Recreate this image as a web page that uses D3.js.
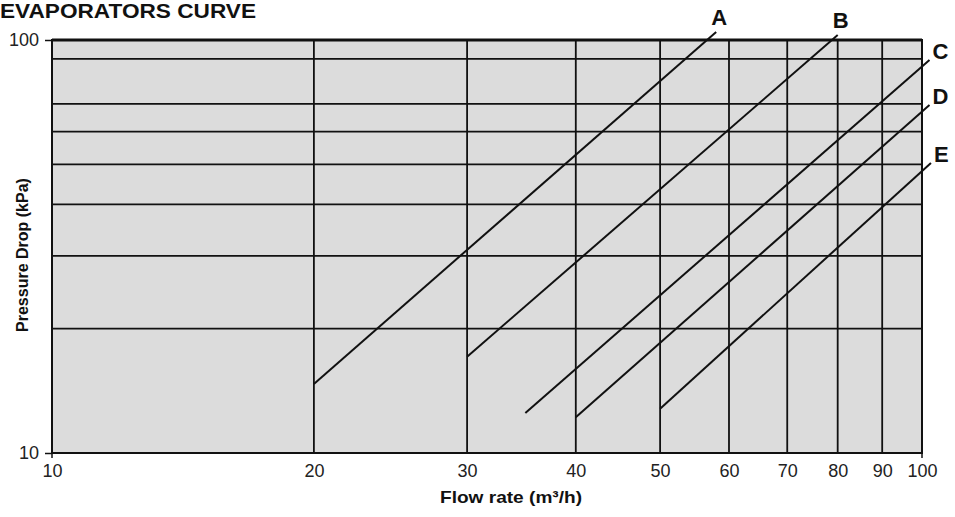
<!DOCTYPE html>
<html>
<head>
<meta charset="utf-8">
<script src="https://cdn.jsdelivr.net/npm/d3@7"></script>
<style>
  html, body { margin: 0; padding: 0; background: #ffffff; }
  svg { display: block; font-family: "Liberation Sans", Arial, sans-serif; }
</style>
</head>
<body>
<svg id="chart" width="955" height="517"></svg>
<script>
// ---- data ----
const title = "EVAPORATORS CURVE";
const xLabel = "Flow rate (m³/h)";
const yLabel = "Pressure Drop (kPa)";
const xTickValues = [10, 20, 30, 40, 50, 60, 70, 80, 90, 100];
const xGridValues = [20, 30, 40, 50, 60, 70, 80, 90];
const yGridValues = [20, 30, 40, 50, 60, 70, 90];
const yTickValues = [10, 100];
const curveNames = ["A", "B", "C", "D", "E"];
const flowStart = [20, 30, 35, 40, 50];
const dropStart = [14.7, 17.1, 12.5, 12.2, 12.8];
const flowEnd = [58, 80, 102, 102, 102.4];
const dropEnd = [104.6, 102.8, 89.4, 69.6, 50.4];

// ---- layout ----
const svg = d3.select("#chart");
const mLeft = 52, mRight = 922, mTop = 40, mBottom = 453;
const x = d3.scaleLog().domain([10, 100]).range([mLeft, mRight]);
const y = d3.scaleLog().domain([10, 100]).range([mBottom, mTop]);

// title
svg.append("text").attr("x", 0).attr("y", 18)
  .attr("font-size", 21).attr("font-weight", "bold").attr("fill", "#111")
  .attr("textLength", 256).attr("lengthAdjust", "spacingAndGlyphs")
  .text(title);

// plot background
svg.append("rect").attr("x", mLeft).attr("y", mTop)
  .attr("width", mRight - mLeft).attr("height", mBottom - mTop)
  .attr("fill", "#dcdcdc");

// grid
svg.append("g").selectAll("line").data(xGridValues).join("line")
  .attr("x1", d => x(d)).attr("x2", d => x(d))
  .attr("y1", mTop).attr("y2", mBottom)
  .attr("stroke", "#111").attr("stroke-width", 1.8);
svg.append("g").selectAll("line").data(yGridValues).join("line")
  .attr("x1", mLeft).attr("x2", mRight)
  .attr("y1", d => y(d)).attr("y2", d => y(d))
  .attr("stroke", "#111").attr("stroke-width", 1.8);

// frame
svg.append("rect").attr("x", mLeft).attr("y", mTop)
  .attr("width", mRight - mLeft).attr("height", mBottom - mTop)
  .attr("fill", "none").attr("stroke", "#111").attr("stroke-width", 2);
svg.append("line").attr("x1", mLeft).attr("x2", mRight).attr("y1", mTop).attr("y2", mTop)
  .attr("stroke", "#111").attr("stroke-width", 3);

// y axis
const yAxis = d3.axisLeft(y).tickValues(yTickValues).tickSize(7).tickPadding(6)
  .tickFormat(d3.format("d"));
const gy = svg.append("g").attr("transform", `translate(${mLeft},0)`).call(yAxis);
gy.select(".domain").remove();
gy.selectAll(".tick line").attr("stroke", "#111").attr("stroke-width", 1.5);
gy.selectAll(".tick text").attr("font-size", 18).attr("fill", "#222")
  .attr("font-family", "'Liberation Sans', Arial, sans-serif");

// x axis
const xAxis = d3.axisBottom(x).tickValues(xTickValues).tickSize(0).tickPadding(11)
  .tickFormat(d3.format("d"));
const gx = svg.append("g").attr("transform", `translate(0,${mBottom})`).call(xAxis);
gx.select(".domain").remove();
gx.selectAll(".tick text").attr("font-size", 18).attr("fill", "#222")
  .attr("font-family", "'Liberation Sans', Arial, sans-serif");
// end ticks
svg.append("g").selectAll("line").data([10, 100]).join("line")
  .attr("x1", d => x(d)).attr("x2", d => x(d))
  .attr("y1", mBottom).attr("y2", mBottom + 5)
  .attr("stroke", "#111").attr("stroke-width", 1.5);

// axis labels
svg.append("text").attr("x", 511).attr("y", 503).attr("text-anchor", "middle")
  .attr("font-size", 17).attr("font-weight", "bold").attr("fill", "#111")
  .attr("textLength", 142).attr("lengthAdjust", "spacingAndGlyphs")
  .text(xLabel);
svg.append("text").attr("transform", `translate(28,255) rotate(-90)`)
  .attr("text-anchor", "middle")
  .attr("font-size", 16).attr("font-weight", "bold").attr("fill", "#111")
  .text(yLabel);

// curves
const curves = curveNames.map((n, i) => ({
  name: n, x0: flowStart[i], y0: dropStart[i], x1: flowEnd[i], y1: dropEnd[i]
}));
svg.append("g").selectAll("line").data(curves).join("line")
  .attr("x1", d => x(d.x0)).attr("y1", d => y(d.y0))
  .attr("x2", d => x(d.x1)).attr("y2", d => y(d.y1))
  .attr("stroke", "#111").attr("stroke-width", 2);

// curve labels
svg.append("g").selectAll("text").data(curves).join("text")
  .attr("x", d => d.y1 > 100 ? x(d.x1) + 3 : x(d.x1) + 3)
  .attr("y", d => d.y1 > 100 ? y(d.y1) - 7 : y(d.y1) - 1)
  .attr("text-anchor", d => d.y1 > 100 ? "middle" : "start")
  .attr("font-size", 22).attr("font-weight", "bold").attr("fill", "#111")
  .text(d => d.name);
</script>
</body>
</html>
